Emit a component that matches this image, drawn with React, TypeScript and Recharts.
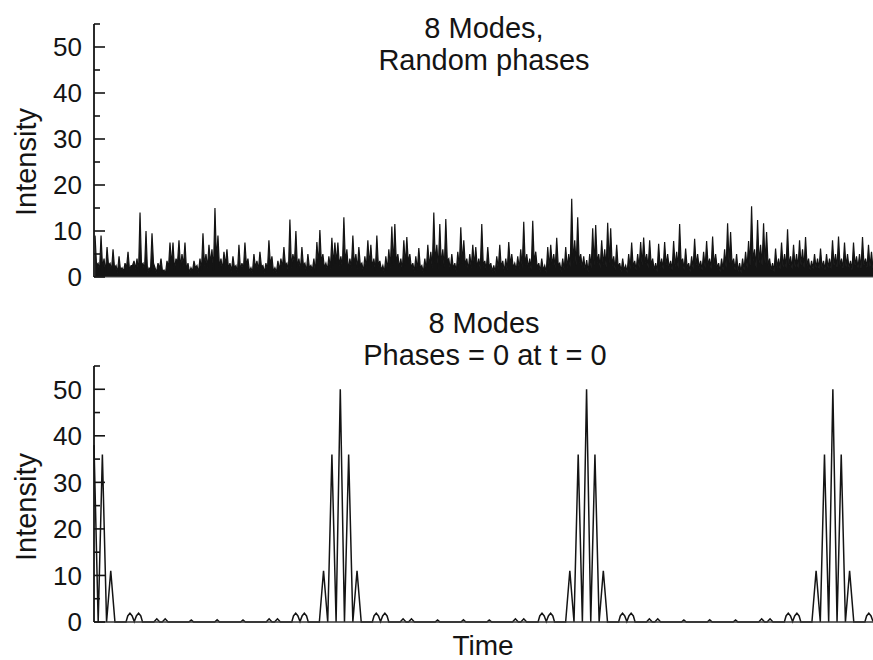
import { Area, AreaChart, Line, LineChart, XAxis, YAxis } from "recharts";

const FONT = '"Liberation Sans", Arial, Helvetica, sans-serif';
const INK = "#141414";
const AXIS_X = 94;

const yTicks = [0, 5, 10, 15, 20, 25, 30, 35, 40, 45, 50, 55];
const yLabels = [0, 10, 20, 30, 40, 50];

// top panel: spike tops, read left to right
const randomPeaks = [
  9, 3, 9, 4, 6.5, 3, 6, 2.5, 4.5, 2, 3, 5.5, 2.5, 3.5, 4, 14, 3, 10, 2, 9.5,
  2, 3, 4, 1.5, 3.5, 7.5, 7.5, 4, 8, 5, 7.5, 3, 2, 3.5, 2.5, 4, 9.5, 5, 7, 6,
  15, 9, 4, 5.5, 6, 3, 4.5, 2.5, 7, 3, 7.5, 4, 2, 5, 3.5, 5.5, 2.5, 3, 8, 4.5,
  2, 3.5, 4, 6.5, 3, 12.5, 5, 10, 4, 6.5, 3, 5, 2.5, 4, 7.6, 10.2, 5, 3, 4.5, 8.5,
  7.5, 7.5, 4.5, 13, 6, 4, 9, 5, 6.5, 3, 4.5, 8, 7, 4, 9, 3.5, 2.5, 4.5, 6, 11,
  11.5, 5, 4, 8, 8.7, 5, 3, 4.5, 6.3, 2.5, 4, 7, 5.5, 14, 7, 11.5, 6, 12.6, 4, 5,
  3, 5.5, 10.8, 8, 4, 5, 7, 6.5, 4, 11.5, 3.5, 6.5, 3, 2.5, 4.5, 7, 3.5, 4, 7.6, 5,
  3, 4.5, 6, 12, 5, 4, 12.2, 5.5, 3, 4, 2.5, 6.5, 7, 5, 8.5, 3, 4, 6.5, 5, 17,
  8, 13, 5, 4.5, 3.7, 5, 10.6, 11.3, 5, 8, 6, 11.8, 10.6, 4.5, 7, 3, 4, 2.5, 5, 7.5,
  3.5, 5, 7.6, 8.6, 5, 8, 4, 3, 7.2, 4, 7.6, 5, 3.5, 7.8, 5.5, 11.5, 4, 6.2, 3, 4.5,
  8.3, 5, 3.5, 5.5, 7.8, 4, 8.8, 5, 3, 4, 6, 11.7, 9.8, 4, 5, 3, 4, 5.5, 7.8, 15.4,
  6, 12.4, 7, 11.7, 9.8, 4, 3, 6.2, 4, 7.5, 5, 10.4, 4.5, 7, 5, 8, 6, 8.7, 4, 3.5,
  5, 4, 6.2, 3.5, 5, 4, 8, 5, 8.8, 4, 7.5, 5, 3.5, 7.5, 4.5, 5, 8.7, 4, 7, 5.5,
];

// top panel: the low points between spikes
const randomTroughs = [
  2.5, 1.5, 2, 1, 2.5, 1.5, 2, 1, 1.5, 1.2, 2, 1.5, 2.5, 1.8, 1, 2.5, 1.5, 1, 1.5, 3,
  1, 1.8, 1.2, 0.8, 2, 2.5, 1.5, 3, 2, 2.5, 1.5, 1, 1.2, 2, 1, 1.5, 2.5, 2, 3, 1.5,
  3.5, 2, 1.5, 2.5, 1.8, 1.2, 2, 1, 1.5, 1.8, 2.5, 1.2, 1, 2, 1.5, 2.2, 1, 1.5, 2.5, 1.2,
  1, 1.5, 2, 2.5, 1.2, 2, 3, 2, 1.5, 2.5, 1.2, 2, 1.5, 1, 2.5, 3, 2, 1.5, 1.8, 2.5,
  3, 2.5, 2, 3, 1.5, 2, 2.5, 1.8, 2.5, 1.2, 2, 2.5, 2, 1.5, 2.5, 1.5, 1, 1.5, 2, 2.5,
  3, 2, 1.5, 2.5, 3, 2, 1.2, 1.5, 2, 1, 1.5, 2.2, 2, 3, 1.8, 2.5, 2, 3.5, 1.5, 1.8,
  1.2, 2, 3, 2.5, 1.5, 2, 2.5, 2, 1.8, 2.5, 1.5, 2, 1.2, 1, 1.8, 2, 1.2, 1.5, 2.5, 2,
  1.5, 1.8, 2, 2.5, 2, 1.5, 3, 2, 1.2, 1.5, 1, 2, 2.5, 2, 2.5, 1.2, 1.5, 2, 2.2, 3,
  2.5, 3, 2, 1.5, 1, 2, 2.5, 3, 2, 2.5, 2, 3, 2.5, 1.5, 2, 1.2, 1.5, 1, 1.8, 2.2,
  1.5, 2, 2.5, 3, 2, 2.5, 1.5, 1.2, 2, 1.8, 2.5, 2, 1.5, 2.2, 2, 3, 1.5, 2, 1.2, 1.8,
  2.5, 2, 1.5, 2, 2.5, 1.8, 2.5, 2, 1.2, 1.5, 2, 3, 2.5, 1.5, 1.2, 1, 1.5, 2, 2.5, 3.5,
  2, 3, 2.5, 3, 2.5, 1.5, 1.2, 2, 1.8, 2.2, 2, 2.5, 1.8, 2.2, 2, 2.5, 2, 2.5, 1.5, 1.8,
  2, 1.8, 2, 1.5, 2, 1.8, 2.5, 2, 2.5, 1.8, 2.2, 2, 1.5, 2.5, 2, 1.8, 2.5, 2, 2.2, 1.8,
];

// bottom panel: [time, intensity], pulse spacing = 100
const lockedSamples: [number, number][] = [
  [0, 38], [1.7, 0], [3.4, 36], [5.1, 0], [6.8, 11], [8.5, 0],
  [13, 0], [13.7, 1.3], [14.6, 1.9], [15.5, 1.3], [16.35, 0.1], [17.2, 1.3], [18.1, 1.9], [19, 1.3], [19.7, 0],
  [24.3, 0], [25.5, 0.7], [26.7, 0], [27.7, 0], [28.9, 0.7], [30.1, 0],
  [38.5, 0], [39.5, 0.45], [40.5, 0],
  [49, 0], [50, 0.5], [51, 0],
  [59.5, 0], [60.5, 0.45], [61.5, 0],
  [69.9, 0], [71.1, 0.7], [72.3, 0], [73.3, 0], [74.5, 0.7], [75.7, 0],
  [80.3, 0], [81, 1.3], [81.9, 1.9], [82.8, 1.3], [83.65, 0.1], [84.5, 1.3], [85.4, 1.9], [86.3, 1.3], [87, 0],

  [91.5, 0], [93.2, 11], [94.9, 0], [96.6, 36], [98.3, 0], [100, 50], [101.7, 0], [103.4, 36], [105.1, 0], [106.8, 11], [108.5, 0],
  [113, 0], [113.7, 1.3], [114.6, 1.9], [115.5, 1.3], [116.35, 0.1], [117.2, 1.3], [118.1, 1.9], [119, 1.3], [119.7, 0],
  [124.3, 0], [125.5, 0.7], [126.7, 0], [127.7, 0], [128.9, 0.7], [130.1, 0],
  [138.5, 0], [139.5, 0.45], [140.5, 0],
  [149, 0], [150, 0.5], [151, 0],
  [159.5, 0], [160.5, 0.45], [161.5, 0],
  [169.9, 0], [171.1, 0.7], [172.3, 0], [173.3, 0], [174.5, 0.7], [175.7, 0],
  [180.3, 0], [181, 1.3], [181.9, 1.9], [182.8, 1.3], [183.65, 0.1], [184.5, 1.3], [185.4, 1.9], [186.3, 1.3], [187, 0],

  [191.5, 0], [193.2, 11], [194.9, 0], [196.6, 36], [198.3, 0], [200, 50], [201.7, 0], [203.4, 36], [205.1, 0], [206.8, 11], [208.5, 0],
  [213, 0], [213.7, 1.3], [214.6, 1.9], [215.5, 1.3], [216.35, 0.1], [217.2, 1.3], [218.1, 1.9], [219, 1.3], [219.7, 0],
  [224.3, 0], [225.5, 0.7], [226.7, 0], [227.7, 0], [228.9, 0.7], [230.1, 0],
  [238.5, 0], [239.5, 0.45], [240.5, 0],
  [249, 0], [250, 0.5], [251, 0],
  [259.5, 0], [260.5, 0.45], [261.5, 0],
  [269.9, 0], [271.1, 0.7], [272.3, 0], [273.3, 0], [274.5, 0.7], [275.7, 0],
  [280.3, 0], [281, 1.3], [281.9, 1.9], [282.8, 1.3], [283.65, 0.1], [284.5, 1.3], [285.4, 1.9], [286.3, 1.3], [287, 0],

  [291.5, 0], [293.2, 11], [294.9, 0], [296.6, 36], [298.3, 0], [300, 50], [301.7, 0], [303.4, 36], [305.1, 0], [306.8, 11], [308.5, 0],
  [313, 0], [313.7, 1.3], [314.6, 1.9], [315.5, 1.3], [316.3, 0.1],
];

const randomData = randomPeaks.flatMap((p, i) => [
  { t: 2 * i, v: p },
  { t: 2 * i + 1, v: randomTroughs[i] },
]);
const lockedData = lockedSamples.map(([t, v]) => ({ t, v }));

function IntensityTick(props: any) {
  const { y, payload } = props;
  const value = payload.value;
  const major = yLabels.includes(value);
  return (
    <g>
      <line x1={AXIS_X} x2={AXIS_X + (major ? 11 : 6)} y1={y} y2={y} stroke={INK} strokeWidth={1.6} />
      {major && (
        <text x={82} y={y} dy="0.36em" textAnchor="end" fontSize={26} fontFamily={FONT} fill={INK}>
          {value}
        </text>
      )}
    </g>
  );
}

const textStyle = { fontFamily: FONT, fill: INK };

export default function App() {
  return (
    <div style={{ position: "absolute", left: 0, top: 0, width: 873, height: 660, background: "#fff" }}>
      <div style={{ position: "absolute", left: 0, top: 0 }}>
        <AreaChart width={873} height={300} data={randomData} margin={{ top: 24, right: 0, bottom: 22, left: 0 }}>
          <XAxis dataKey="t" type="number" domain={[-0.7, 518.7]} height={1} tick={false} tickLine={false} axisLine={{ stroke: "#555", strokeWidth: 1 }} />
          <YAxis
            type="number"
            domain={[0, 55]}
            ticks={yTicks}
            interval={0}
            width={94}
            tickLine={false}
            tick={<IntensityTick />}
            axisLine={{ stroke: INK, strokeWidth: 1.8 }}
          />
          <Area type="linear" dataKey="v" stroke={INK} strokeWidth={1.2} fill={INK} fillOpacity={1} isAnimationActive={false} />
        </AreaChart>
      </div>
      <div style={{ position: "absolute", left: 0, top: 300 }}>
        <LineChart width={873} height={360} data={lockedData} margin={{ top: 66, right: 0, bottom: 37, left: 0 }}>
          <XAxis dataKey="t" type="number" domain={[0, 316.3]} height={1} tick={false} tickLine={false} axisLine={{ stroke: "#333", strokeWidth: 1.4 }} />
          <YAxis
            type="number"
            domain={[0, 55]}
            ticks={yTicks}
            interval={0}
            width={94}
            tickLine={false}
            tick={<IntensityTick />}
            axisLine={{ stroke: INK, strokeWidth: 1.8 }}
          />
          <Line type="linear" dataKey="v" stroke={INK} strokeWidth={1.5} dot={false} isAnimationActive={false} />
        </LineChart>
      </div>
      <svg width={873} height={660} style={{ position: "absolute", left: 0, top: 0, pointerEvents: "none" }}>
        <g {...textStyle} fontSize={29} textAnchor="middle">
          <text x={484} y={38}>8 Modes,</text>
          <text x={484} y={70}>Random phases</text>
          <text x={484} y={333}>8 Modes</text>
          <text x={485} y={365}>Phases = 0 at t = 0</text>
          <text x={483} y={655} fontSize={28}>Time</text>
          <text x={36} y={162} transform="rotate(-90 36 162)">Intensity</text>
          <text x={36} y={507} transform="rotate(-90 36 507)">Intensity</text>
        </g>
      </svg>
    </div>
  );
}
